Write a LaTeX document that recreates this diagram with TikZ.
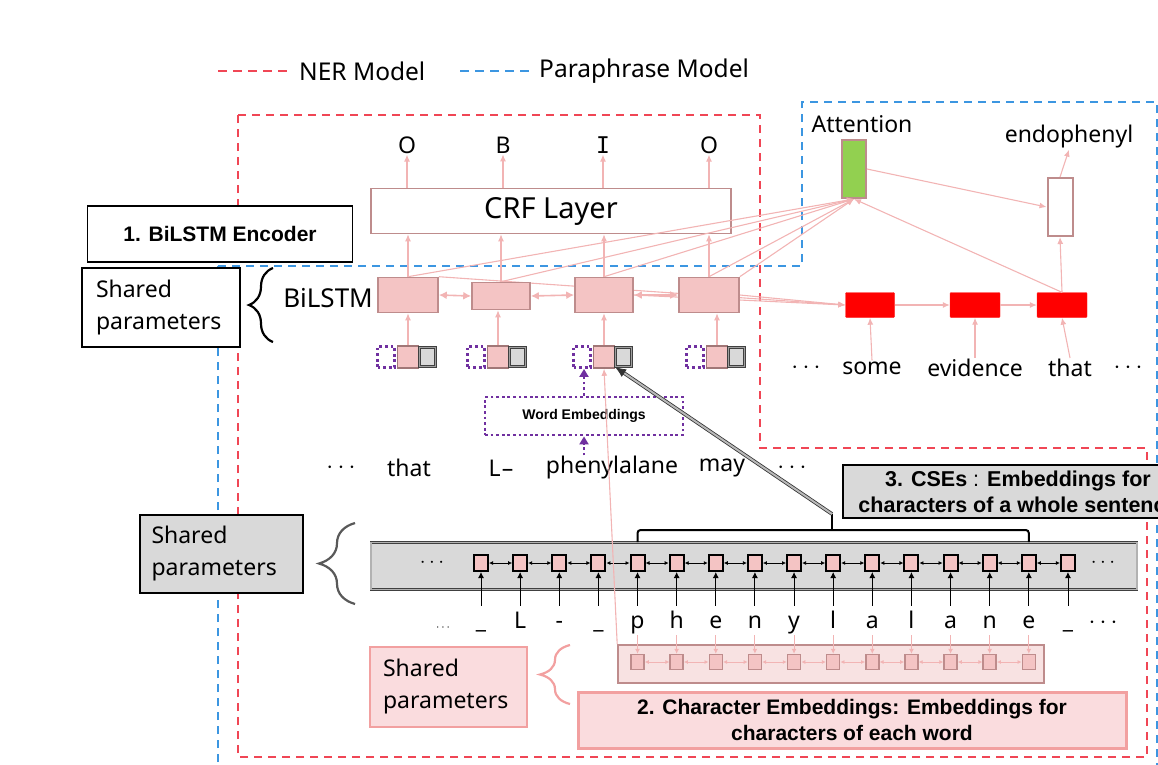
\documentclass[tikz,border=0pt]{standalone}
\usepackage{fontspec}
\setmainfont{Noto Sans}
\newfontfamily\boldsans{Liberation Sans}
\newfontfamily\tagfont{DejaVu Sans Mono}
\usetikzlibrary{arrows.meta,decorations.pathreplacing,calc}

\definecolor{nerred}{RGB}{240,70,85}
\definecolor{parablue}{RGB}{60,150,225}
\definecolor{pinkline}{RGB}{242,180,180}
\definecolor{pinkfill}{RGB}{244,196,196}
\definecolor{brownedge}{RGB}{190,140,140}
\definecolor{wepurple}{RGB}{112,48,160}
\definecolor{attgreen}{RGB}{146,208,80}
\definecolor{boxgray}{RGB}{217,217,217}
\definecolor{softpink}{RGB}{250,220,222}
\definecolor{pinkedge}{RGB}{242,160,160}
\definecolor{charbg}{RGB}{248,226,226}

\newcommand\lblfont{\fontsize{23}{28}\selectfont}
\newcommand\boldlbl[1]{\boldsans\bfseries\fontsize{#1}{26}\selectfont}

\begin{document}
\begin{tikzpicture}[x=1pt,y=-1pt,
  nerdash/.style={draw=nerred, line width=2pt, dash pattern=on 8pt off 6pt},
  paradash/.style={draw=parablue, line width=2pt, dash pattern=on 8pt off 6pt},
  pk/.style={draw=pinkline, line width=1.1pt, -{Latex[length=7pt,width=6pt]}},
  pkbi/.style={draw=pinkline, line width=1.6pt, {Latex[length=8pt,width=8pt]}-{Latex[length=8pt,width=8pt]}},
  lstm/.style={fill=pinkfill, draw=brownedge, line width=1.6pt, inner sep=0pt},
  dec/.style={fill=red, draw=red!90!white, rounded corners=1pt, minimum width=50pt, minimum height=25pt, inner sep=0pt},
  wbox/.style={draw=wepurple, line width=2.8pt, dash pattern=on 2.8pt off 2.8pt, inner sep=0pt},
  wsq/.style={fill=pinkfill, draw=brownedge!85!black, line width=1.6pt, minimum width=21pt, minimum height=22pt, inner sep=0pt},
  gsq/.style={fill=boxgray, draw=black!75, line width=0.9pt, double=gray!75, double distance=1.2pt, minimum width=16pt, minimum height=19pt, inner sep=0pt},
  csq/.style={fill=pinkfill, draw=black, line width=2pt, minimum width=14pt, minimum height=16pt, inner sep=0pt},
  esq/.style={fill=pinkfill, draw=brownedge, line width=1.5pt, minimum width=13pt, minimum height=15pt, inner sep=0pt},
  word/.style={font=\lblfont, inner sep=1pt},
  letter/.style={font=\lblfont, inner sep=0pt, text height=16pt, text depth=4pt},
  blk/.style={draw=black, line width=0.8pt, {Latex[length=4pt,width=4pt]}-{Latex[length=4pt,width=4pt]}},
  blkup/.style={draw=black, line width=0.9pt, -{Latex[length=6pt,width=6pt]}},
  pksm/.style={draw=pinkline, line width=1pt, {Latex[length=4pt,width=4pt]}-{Latex[length=4pt,width=4pt]}},
  sharedbox/.style={align=left, font=\fontsize{23}{32}\selectfont, inner sep=0pt},
  tagtxt/.style={font=\fontsize{23}{26}\selectfont, inner sep=1pt}
]
\useasboundingbox (0,0) rectangle (1158,764);
\clip (0,0) rectangle (1158,764);

% legend
\node[word, anchor=west, font=\fontsize{24.5}{28}\selectfont] (lgner) at (298,71) {NER Model};
\node[word, anchor=west, font=\fontsize{24.5}{28}\selectfont] (lgpara) at (538,71) {Paraphrase Model};
\coordinate (lgnerstart) at (218,71);
\coordinate (lgparastart) at (460,71);
\draw[nerdash, line width=2.6pt, dash pattern=on 9pt off 6pt] (lgnerstart) -- ($(lgner.west)+(-8,0)$);
\draw[paradash, line width=2.6pt, dash pattern=on 9pt off 6pt] (lgparastart) -- ($(lgpara.west)+(-8,0)$);

% model regions
\draw[nerdash] (238,115) -- (760,115) -- (760,448) -- (1147,448) -- (1147,757) -- (238,757) -- cycle;
\draw[paradash] (218,266) -- (802,266) -- (802,102) -- (1157,102) -- (1157,790) -- (218,790) -- cycle;

% CRF layer and tags
\node[draw=brownedge, line width=1.6pt, fill=white, minimum width=360pt, minimum height=45pt, inner sep=0pt, font=\fontsize{29}{30}\selectfont] (crf) at (551,211) {CRF Layer};
\node[tagtxt] (t1) at (407,145) {O};
\node[tagtxt] (t2) at (503,145) {B};
\node[tagtxt, font=\tagfont\fontsize{23}{26}\selectfont] (t3) at (603,145) {I};
\node[tagtxt] (t4) at (709,145) {O};

% encoder BiLSTM cells
\node[lstm, minimum width=60pt, minimum height=35pt] (b1) at (408,295) {};
\node[lstm, minimum width=58pt, minimum height=27pt] (b2) at (501,296) {};
\node[lstm, minimum width=58pt, minimum height=35pt] (b3) at (604,295) {};
\node[lstm, minimum width=60pt, minimum height=35pt] (b4) at (709,295) {};
\node[word, anchor=east, font=\fontsize{26}{28}\selectfont] (bilstmlbl) at (374,298) {BiLSTM};

% paraphrase decoder
\node[fill=attgreen, draw=brownedge, line width=2pt, minimum width=24pt, minimum height=58pt, inner sep=0pt] (att) at (854,169) {};
\node[word] (attlbl) at (862,124) {Attention};
\node[fill=white, draw=brownedge, line width=2pt, minimum width=25pt, minimum height=58pt, inner sep=0pt] (endo) at (1060,207) {};
\node[word] (endolbl) at (1069,137) {endophenyl};
\node[dec, minimum width=49pt] (d1) at (870,305) {};
\node[dec] (d2) at (975,305) {};
\node[dec] (d3) at (1062,305) {};
\node[word] (wsome) at (872,368) {some};
\node[word] (wevid) at (975,368) {evidence};
\node[word] (wthat2) at (1070,368) {that};
\node[word] (dotsA) at (806,368) {\textbf{$\cdots$}};
\node[word] (dotsB) at (1128,368) {\textbf{$\cdots$}};

% encoder states feeding attention and decoder
\draw[pk] (b1.north) -- (att.south);
\draw[pk] (b2.north) -- (att.south);
\draw[pk] (b3.north) -- (att.south);
\draw[pk] (b4.north) -- (att.south);
\draw[pk] (b4.north east) -- (att.south);
\draw[pk] (b1.north east) -- (d1.west);
\draw[pk] (b3.east) -- (d1.west);
\draw[pk] (b4.east) -- (d1.west);
\draw[pk] (d3.north) -- (att.south);
\draw[pk] (att.east) -- (endo.west);
\draw[pk] (d3.north) -- (endo.south);
\draw[pk] (endo.north) -- (endolbl.south);
\draw[pk] (d1.east) -- (d2.west);
\draw[pk] (d2.east) -- (d3.west);
\draw[pk] (wsome.north) -- (d1.south);
\draw[pk] (wevid.north) -- (d2.south);
\draw[pk] (wthat2.north) -- (d3.south);

% redraw encoder cells above the crossing lines
\node[lstm, minimum width=60pt, minimum height=35pt] at (b1) {};
\node[lstm, minimum width=58pt, minimum height=27pt] at (b2) {};
\node[lstm, minimum width=58pt, minimum height=35pt] at (b3) {};
\node[lstm, minimum width=60pt, minimum height=35pt] at (b4) {};

\draw[pkbi] (b1.east) -- (b2.west);
\draw[pkbi] (b2.east) -- (b3.west);
\draw[pkbi] (b3.east) -- (b4.west);

\foreach \b/\t in {b1/t1, b2/t2, b3/t3, b4/t4}{
  \draw[pk] (\b.north) -- (\b.north |- crf.south);
  \draw[pk] (\t.south |- crf.north) -- (\t.south);
}

% word inputs: word embedding + character part
\foreach \i/\x in {1/408, 2/498, 3/604, 4/717}{
  \node[wbox, minimum width=17pt, minimum height=21pt] (p\i) at (\x-22,357) {};
  \node[wsq] (s\i) at (\x,357) {};
  \node[gsq] (g\i) at (\x+19.5,357) {};
}
\draw[pk] (s1.north) -- (s1.north |- b1.south);
\draw[pk] (s2.north) -- (s2.north |- b2.south);
\draw[pk] (s3.north) -- (s3.north |- b3.south);
\draw[pk] (s4.north) -- (s4.north |- b4.south);

\node[wbox, minimum width=198pt, minimum height=38pt, font=\boldsans\bfseries\fontsize{14}{16}\selectfont] (we) at (584,416) {Word Embeddings};

% sentence words
\node[word] (dots1) at (341,468) {$\cdots$};
\node[word] (wthat) at (409,468) {that};
\node[word] (wL) at (501,468) {L\kern1pt--};
\node[word] (wphen) at (612,468) {phenylalane};
\node[word] (wmay) at (722,468) {may};
\node[word] (dots2) at (792,468) {$\cdots$};

\draw[wepurple, line width=2.8pt, dash pattern=on 2.8pt off 2.8pt, -{Triangle[length=8pt,width=9pt]}] (we.south |- wphen.north) -- (we.south);
\draw[wepurple, line width=2.8pt, dash pattern=on 2.8pt off 2.8pt, -{Triangle[length=8pt,width=9pt]}] (we.north) -- (we.north |- p3.south);

% labels on the left
\node[draw=black, line width=1.2pt, fill=white, minimum width=265pt, minimum height=56pt, font=\boldlbl{21}] (enc) at (220,234) {1. BiLSTM Encoder};
\node[draw=black, line width=1.2pt, fill=white, minimum width=158pt, minimum height=79pt, inner sep=0pt] (sp1) at (161,307.5) {};
\node[sharedbox, text width=130pt] (sp1t) at (sp1) {Shared\\parameters};
\node[draw=black, line width=1.2pt, fill=boxgray, minimum width=163pt, minimum height=78pt, inner sep=0pt] (sp2) at (221.5,554) {};
\node[sharedbox, text width=140pt] (sp2t) at (sp2) {Shared\\parameters};

% character sentence embeddings (CSEs)
\node[fill=boxgray, draw=black!75, line width=0.8pt, double=gray!60, double distance=1.2pt, minimum width=766pt, minimum height=47pt, inner sep=0pt] (cse) at (754,566) {};
\node[word, font=\fontsize{20}{24}\selectfont] (csedotsL) at (432,563) {$\cdots$};
\node[word, font=\fontsize{20}{24}\selectfont] (csedotsR) at (1103,563) {$\cdots$};

\foreach \c [count=\i from 0] in {\_,L,-,\_,p,h,e,n,y,l,a,l,a,n,e,\_}{
  \node[csq] (c\i) at (481+39.13*\i,563) {};
  \node[letter] (l\i) at (481+39.13*\i,622) {\c};
  \draw[blkup, shorten <=6pt] (l\i.north) -- (c\i.south);
}
\foreach \i [evaluate=\i as \j using int(\i+1)] in {0,...,14}{
  \draw[blk] (c\i.east) -- (c\j.west);
}
\node[letter, font=\fontsize{13}{16}\selectfont] (ldotsL) at (443,624) {$\cdots$};
\node[letter] (ldotsR) at (1103,622) {$\cdots$};

% bracket over the CSE span
\draw[black, line width=2pt, rounded corners=3pt] (c4.north |- cse.north) -- (c4.north |- 0,530) -- (c14.north |- 0,530) -- (c14.north |- cse.north);
\coordinate (cseb) at (832,514);
\draw[black, line width=2pt] (832,530) -- (cseb);
\node[draw=black, line width=1.2pt, fill=boxgray, minimum width=350pt, minimum height=53pt, inner sep=0pt, align=center, font=\boldlbl{21.5}] (cselbl) at (1018,491.5) {3. CSEs {\mdseries :} Embeddings for\\characters of a whole sentence};
\draw[draw=black!80, line width=0.8pt, double=gray!55, double distance=2pt, -{Latex[length=11pt,width=9pt]}] (cseb) -- (g3.south west);

% character embeddings of one word
\node[fill=charbg, draw=brownedge, line width=1.6pt, minimum width=426pt, minimum height=38pt, inner sep=0pt] (ce) at (831,664) {};
\foreach \i in {4,...,14}{
  \node[esq] (e\i) at (481+39.13*\i,662) {};
  \draw[pk, line width=0.9pt, -{Latex[length=5pt,width=5pt]}, shorten <=3pt] (l\i.south) -- (e\i.north);
}
\foreach \i [evaluate=\i as \j using int(\i+1)] in {4,...,13}{
  \draw[pksm] (e\i.east) -- (e\j.west);
}
\draw[pk] (ce.north west) -- (s3.south);

\node[draw=pinkedge, line width=2.5pt, fill=softpink, minimum width=157pt, minimum height=80pt, inner sep=0pt] (sp3) at (448.5,687) {};
\node[sharedbox, text width=131pt] (sp3t) at (sp3) {Shared\\parameters};
\node[draw=pinkedge, line width=3pt, fill=softpink, minimum width=548pt, minimum height=56pt, inner sep=0pt, align=center, font=\boldlbl{21}] (celbl) at (852,720) {2. Character Embeddings: Embeddings for\\characters of each word};

% braces
\draw[black, line width=2.2pt, decorate, decoration={brace, amplitude=24pt}] (273,342) -- (273,268);
\draw[black!65, line width=2.2pt, decorate, decoration={brace, amplitude=36pt}] (355,604) -- (355,523);
\draw[pinkedge, line width=2.2pt, decorate, decoration={brace, amplitude=30pt}] (570,704) -- (570,645);
\end{tikzpicture}
\end{document}
